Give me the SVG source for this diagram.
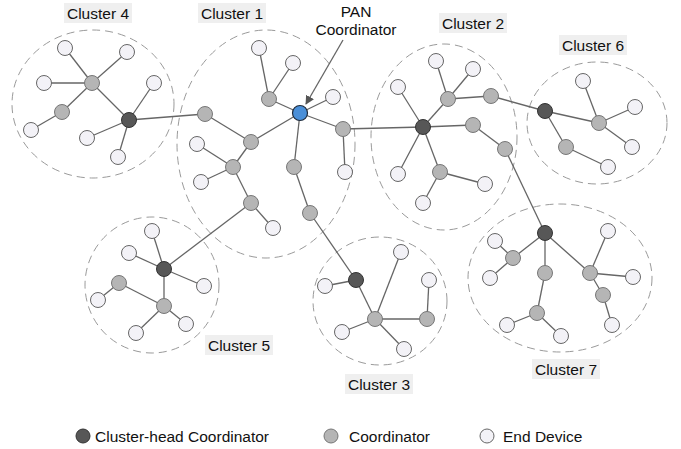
<svg xmlns="http://www.w3.org/2000/svg" width="681" height="449" viewBox="0 0 681 449">
<defs>
<marker id="arr" viewBox="0 0 10 10" refX="9" refY="5" markerWidth="9" markerHeight="10" orient="auto" markerUnits="userSpaceOnUse">
<path d="M0,0 L10,5 L0,10 z" fill="#555"/>
</marker>
</defs>
<style>
.cl{fill:none;stroke:#9a9a9a;stroke-width:1;stroke-dasharray:8,5}
.ed line{stroke:#666;stroke-width:1.3}
.h{fill:#575757;stroke:#333;stroke-width:1}
.c{fill:#b5b5b5;stroke:#777;stroke-width:1}
.e{fill:#f3f2f7;stroke:#666;stroke-width:1}
.p{fill:#4a8fd8;stroke:#1e2a3a;stroke-width:1.2}
.lb{fill:#efefef}
text{font-family:"Liberation Sans",Arial,sans-serif;font-size:15.5px;fill:#111}
.m{text-anchor:middle}
</style>
<rect width="681" height="449" fill="#fff"/>
<g id="clusters">
<ellipse class="cl" cx="93" cy="104" rx="81" ry="74"/>
<ellipse class="cl" cx="266" cy="144" rx="89" ry="114"/>
<ellipse class="cl" cx="444" cy="137" rx="73" ry="93"/>
<ellipse class="cl" cx="597" cy="123" rx="70" ry="61"/>
<ellipse class="cl" cx="152" cy="285" rx="67" ry="68"/>
<ellipse class="cl" cx="380" cy="301" rx="67" ry="64"/>
<ellipse class="cl" cx="560" cy="278" rx="92" ry="74"/>
</g>
<g id="connectors" class="ed">
<line x1="92" y1="83" x2="65" y2="48"/>
<line x1="92" y1="83" x2="127" y2="52"/>
<line x1="92" y1="83" x2="44" y2="83"/>
<line x1="92" y1="83" x2="62" y2="112"/>
<line x1="92" y1="83" x2="129" y2="120"/>
<line x1="62" y1="112" x2="31" y2="130"/>
<line x1="129" y1="120" x2="154" y2="83"/>
<line x1="129" y1="120" x2="87" y2="138"/>
<line x1="129" y1="120" x2="118" y2="157"/>
<line x1="129" y1="120" x2="205" y2="114"/>
<line x1="269" y1="99" x2="259" y2="48"/>
<line x1="269" y1="99" x2="293" y2="63"/>
<line x1="269" y1="99" x2="300" y2="113"/>
<line x1="300" y1="113" x2="333" y2="97"/>
<line x1="300" y1="113" x2="343" y2="129"/>
<line x1="300" y1="113" x2="251" y2="142"/>
<line x1="300" y1="113" x2="294" y2="167"/>
<line x1="205" y1="114" x2="251" y2="142"/>
<line x1="251" y1="142" x2="233" y2="167"/>
<line x1="233" y1="167" x2="197" y2="144"/>
<line x1="233" y1="167" x2="201" y2="182"/>
<line x1="233" y1="167" x2="251" y2="203"/>
<line x1="251" y1="203" x2="273" y2="228"/>
<line x1="251" y1="203" x2="164" y2="269"/>
<line x1="294" y1="167" x2="310" y2="213"/>
<line x1="310" y1="213" x2="356" y2="280"/>
<line x1="343" y1="129" x2="345" y2="172"/>
<line x1="343" y1="129" x2="423" y2="127"/>
<line x1="423" y1="127" x2="398" y2="87"/>
<line x1="423" y1="127" x2="448" y2="99"/>
<line x1="423" y1="127" x2="473" y2="125"/>
<line x1="423" y1="127" x2="398" y2="174"/>
<line x1="423" y1="127" x2="440" y2="172"/>
<line x1="448" y1="99" x2="436" y2="61"/>
<line x1="448" y1="99" x2="473" y2="69"/>
<line x1="448" y1="99" x2="491" y2="96"/>
<line x1="491" y1="96" x2="545" y2="111"/>
<line x1="473" y1="125" x2="505" y2="149"/>
<line x1="505" y1="149" x2="545" y2="233"/>
<line x1="440" y1="172" x2="485" y2="184"/>
<line x1="440" y1="172" x2="423" y2="203"/>
<line x1="545" y1="111" x2="599" y2="123"/>
<line x1="545" y1="111" x2="566" y2="147"/>
<line x1="599" y1="123" x2="583" y2="81"/>
<line x1="599" y1="123" x2="635" y2="107"/>
<line x1="599" y1="123" x2="632" y2="147"/>
<line x1="566" y1="147" x2="608" y2="167"/>
<line x1="164" y1="269" x2="152" y2="231"/>
<line x1="164" y1="269" x2="129" y2="253"/>
<line x1="164" y1="269" x2="204" y2="286"/>
<line x1="164" y1="269" x2="164" y2="306"/>
<line x1="164" y1="306" x2="119" y2="283"/>
<line x1="119" y1="283" x2="98" y2="300"/>
<line x1="164" y1="306" x2="186" y2="324"/>
<line x1="164" y1="306" x2="136" y2="333"/>
<line x1="356" y1="280" x2="325" y2="286"/>
<line x1="356" y1="280" x2="375" y2="319"/>
<line x1="375" y1="319" x2="401" y2="252"/>
<line x1="375" y1="319" x2="427" y2="319"/>
<line x1="427" y1="319" x2="429" y2="280"/>
<line x1="375" y1="319" x2="342" y2="332"/>
<line x1="375" y1="319" x2="404" y2="349"/>
<line x1="545" y1="233" x2="513" y2="258"/>
<line x1="545" y1="233" x2="545" y2="273"/>
<line x1="545" y1="233" x2="590" y2="273"/>
<line x1="513" y1="258" x2="495" y2="241"/>
<line x1="513" y1="258" x2="490" y2="278"/>
<line x1="545" y1="273" x2="537" y2="313"/>
<line x1="537" y1="313" x2="507" y2="325"/>
<line x1="537" y1="313" x2="561" y2="336"/>
<line x1="590" y1="273" x2="608" y2="231"/>
<line x1="590" y1="273" x2="633" y2="277"/>
<line x1="590" y1="273" x2="603" y2="295"/>
<line x1="603" y1="295" x2="612" y2="325"/>
<line x1="343" y1="40" x2="306" y2="104" stroke="#555" marker-end="url(#arr)"/>
</g>
<g id="c4h"><circle class="h" cx="129" cy="120" r="7.5"/></g>
<g id="c4c1"><circle class="c" cx="92" cy="83" r="7.5"/></g>
<g id="c4c2"><circle class="c" cx="62" cy="112" r="7.5"/></g>
<g id="c4e1"><circle class="e" cx="65" cy="48" r="7.5"/></g>
<g id="c4e2"><circle class="e" cx="127" cy="52" r="7.5"/></g>
<g id="c4e3"><circle class="e" cx="44" cy="83" r="7.5"/></g>
<g id="c4e4"><circle class="e" cx="154" cy="83" r="7.5"/></g>
<g id="c4e5"><circle class="e" cx="31" cy="130" r="7.5"/></g>
<g id="c4e6"><circle class="e" cx="87" cy="138" r="7.5"/></g>
<g id="c4e7"><circle class="e" cx="118" cy="157" r="7.5"/></g>
<g id="pan"><circle class="p" cx="300" cy="113" r="7.5"/></g>
<g id="c1c1"><circle class="c" cx="269" cy="99" r="7.5"/></g>
<g id="c1c2"><circle class="c" cx="205" cy="114" r="7.5"/></g>
<g id="c1c3"><circle class="c" cx="343" cy="129" r="7.5"/></g>
<g id="c1c4"><circle class="c" cx="251" cy="142" r="7.5"/></g>
<g id="c1c5"><circle class="c" cx="233" cy="167" r="7.5"/></g>
<g id="c1c6"><circle class="c" cx="294" cy="167" r="7.5"/></g>
<g id="c1c7"><circle class="c" cx="251" cy="203" r="7.5"/></g>
<g id="c1c8"><circle class="c" cx="310" cy="213" r="7.5"/></g>
<g id="c1e1"><circle class="e" cx="259" cy="48" r="7.5"/></g>
<g id="c1e2"><circle class="e" cx="293" cy="63" r="7.5"/></g>
<g id="c1e3"><circle class="e" cx="333" cy="97" r="7.5"/></g>
<g id="c1e4"><circle class="e" cx="197" cy="144" r="7.5"/></g>
<g id="c1e5"><circle class="e" cx="345" cy="172" r="7.5"/></g>
<g id="c1e6"><circle class="e" cx="201" cy="182" r="7.5"/></g>
<g id="c1e7"><circle class="e" cx="273" cy="228" r="7.5"/></g>
<g id="c2h"><circle class="h" cx="423" cy="127" r="7.5"/></g>
<g id="c2c1"><circle class="c" cx="448" cy="99" r="7.5"/></g>
<g id="c2c2"><circle class="c" cx="491" cy="96" r="7.5"/></g>
<g id="c2c3"><circle class="c" cx="473" cy="125" r="7.5"/></g>
<g id="c2c4"><circle class="c" cx="505" cy="149" r="7.5"/></g>
<g id="c2c5"><circle class="c" cx="440" cy="172" r="7.5"/></g>
<g id="c2e1"><circle class="e" cx="436" cy="61" r="7.5"/></g>
<g id="c2e2"><circle class="e" cx="473" cy="69" r="7.5"/></g>
<g id="c2e3"><circle class="e" cx="398" cy="87" r="7.5"/></g>
<g id="c2e4"><circle class="e" cx="398" cy="174" r="7.5"/></g>
<g id="c2e5"><circle class="e" cx="485" cy="184" r="7.5"/></g>
<g id="c2e6"><circle class="e" cx="423" cy="203" r="7.5"/></g>
<g id="c6h"><circle class="h" cx="545" cy="111" r="7.5"/></g>
<g id="c6c1"><circle class="c" cx="599" cy="123" r="7.5"/></g>
<g id="c6c2"><circle class="c" cx="566" cy="147" r="7.5"/></g>
<g id="c6e1"><circle class="e" cx="583" cy="81" r="7.5"/></g>
<g id="c6e2"><circle class="e" cx="635" cy="107" r="7.5"/></g>
<g id="c6e3"><circle class="e" cx="632" cy="147" r="7.5"/></g>
<g id="c6e4"><circle class="e" cx="608" cy="167" r="7.5"/></g>
<g id="c5h"><circle class="h" cx="164" cy="269" r="7.5"/></g>
<g id="c5c1"><circle class="c" cx="119" cy="283" r="7.5"/></g>
<g id="c5c2"><circle class="c" cx="164" cy="306" r="7.5"/></g>
<g id="c5e1"><circle class="e" cx="152" cy="231" r="7.5"/></g>
<g id="c5e2"><circle class="e" cx="129" cy="253" r="7.5"/></g>
<g id="c5e3"><circle class="e" cx="204" cy="286" r="7.5"/></g>
<g id="c5e4"><circle class="e" cx="98" cy="300" r="7.5"/></g>
<g id="c5e5"><circle class="e" cx="186" cy="324" r="7.5"/></g>
<g id="c5e6"><circle class="e" cx="136" cy="333" r="7.5"/></g>
<g id="c3h"><circle class="h" cx="356" cy="280" r="7.5"/></g>
<g id="c3c1"><circle class="c" cx="375" cy="319" r="7.5"/></g>
<g id="c3c2"><circle class="c" cx="427" cy="319" r="7.5"/></g>
<g id="c3e1"><circle class="e" cx="401" cy="252" r="7.5"/></g>
<g id="c3e2"><circle class="e" cx="325" cy="286" r="7.5"/></g>
<g id="c3e3"><circle class="e" cx="429" cy="280" r="7.5"/></g>
<g id="c3e4"><circle class="e" cx="342" cy="332" r="7.5"/></g>
<g id="c3e5"><circle class="e" cx="404" cy="349" r="7.5"/></g>
<g id="c7h"><circle class="h" cx="545" cy="233" r="7.5"/></g>
<g id="c7c1"><circle class="c" cx="513" cy="258" r="7.5"/></g>
<g id="c7c2"><circle class="c" cx="545" cy="273" r="7.5"/></g>
<g id="c7c3"><circle class="c" cx="590" cy="273" r="7.5"/></g>
<g id="c7c4"><circle class="c" cx="603" cy="295" r="7.5"/></g>
<g id="c7c5"><circle class="c" cx="537" cy="313" r="7.5"/></g>
<g id="c7e1"><circle class="e" cx="495" cy="241" r="7.5"/></g>
<g id="c7e2"><circle class="e" cx="608" cy="231" r="7.5"/></g>
<g id="c7e3"><circle class="e" cx="633" cy="277" r="7.5"/></g>
<g id="c7e4"><circle class="e" cx="490" cy="278" r="7.5"/></g>
<g id="c7e5"><circle class="e" cx="507" cy="325" r="7.5"/></g>
<g id="c7e6"><circle class="e" cx="612" cy="325" r="7.5"/></g>
<g id="c7e7"><circle class="e" cx="561" cy="336" r="7.5"/></g>
<g id="labels">
<rect class="lb" x="64" y="3" width="68" height="20"/><text class="m" x="98" y="19">Cluster 4</text>
<rect class="lb" x="198" y="3" width="68" height="20"/><text class="m" x="232" y="19">Cluster 1</text>
<rect class="lb" x="439" y="13" width="68" height="20"/><text class="m" x="473" y="29">Cluster 2</text>
<rect class="lb" x="559" y="35" width="68" height="20"/><text class="m" x="593" y="51">Cluster 6</text>
<rect class="lb" x="205" y="335" width="68" height="20"/><text class="m" x="239" y="351">Cluster 5</text>
<rect class="lb" x="345" y="374" width="68" height="20"/><text class="m" x="379" y="390">Cluster 3</text>
<rect class="lb" x="532" y="359" width="68" height="20"/><text class="m" x="566" y="375">Cluster 7</text>
<text class="m" x="356" y="17">PAN</text>
<text class="m" x="356" y="35">Coordinator</text>
</g>
<g id="legend">
<circle class="h" cx="83" cy="436" r="7"/><text x="95" y="442">Cluster-head Coordinator</text>
<circle class="c" cx="331" cy="436" r="7"/><text x="349" y="442">Coordinator</text>
<circle class="e" cx="487" cy="436" r="7"/><text x="503" y="442">End Device</text>
</g>
</svg>
